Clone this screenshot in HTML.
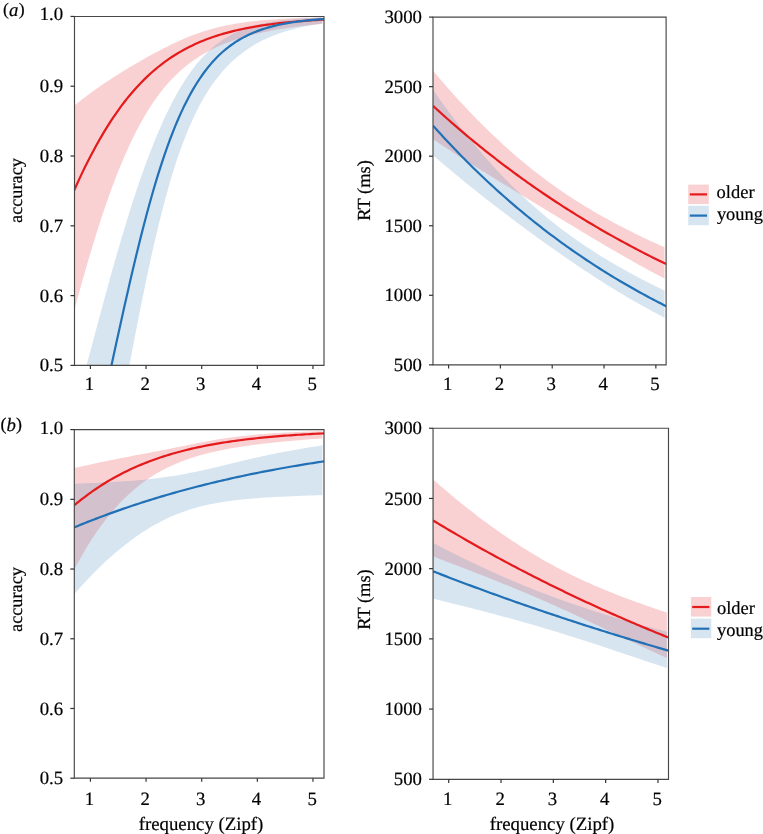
<!DOCTYPE html>
<html><head><meta charset="utf-8"><style>
html,body{margin:0;padding:0;background:#fff;}
svg{display:block;will-change:transform;}
text{font-family:"Liberation Serif",serif;font-size:18.8px;fill:#000;text-rendering:geometricPrecision;stroke:#000;stroke-width:0.2px;}
.ax{fill:none;stroke:#474747;stroke-width:1.15;}
.tk{fill:none;stroke:#333;stroke-width:1.2;}
.bandr{fill:#e41a1c;fill-opacity:0.2;stroke:none;}
.bandb{fill:#377eb8;fill-opacity:0.2;stroke:none;}
.liner{fill:none;stroke:#e41a1c;stroke-width:2.2;stroke-linejoin:round;}
.lineb{fill:none;stroke:#2270b5;stroke-width:2.2;stroke-linejoin:round;}
</style></head><body>
<svg width="763" height="834" viewBox="0 0 763 834">
<defs></defs>
<clipPath id="cTL"><rect x="74.5" y="16.5" width="249.50" height="348.90"/></clipPath>
<clipPath id="cTLb"><rect x="74.5" y="16.5" width="247.90" height="348.90"/></clipPath>
<g clip-path="url(#cTLb)">
<polygon class="bandr" points="73.74,106.03 76.55,103.77 79.37,101.55 82.18,99.36 84.99,97.21 87.80,95.10 90.62,93.02 93.43,90.97 96.24,88.96 99.06,86.98 101.87,85.04 104.68,83.12 107.50,81.23 110.31,79.38 113.12,77.55 115.93,75.74 118.75,73.96 121.56,72.21 124.37,70.48 127.19,68.77 130.00,67.08 132.81,65.42 135.62,63.77 138.44,62.14 141.25,60.53 144.06,58.93 146.88,57.36 149.69,55.80 152.50,54.26 155.31,52.74 158.13,51.24 160.94,49.77 163.75,48.31 166.57,46.88 169.38,45.48 172.19,44.11 175.01,42.77 177.82,41.46 180.63,40.19 183.44,38.96 186.26,37.77 189.07,36.62 191.88,35.52 194.70,34.45 197.51,33.44 200.32,32.46 203.13,31.54 205.95,30.65 208.76,29.81 211.57,29.01 214.39,28.25 217.20,27.53 220.01,26.86 222.82,26.21 225.64,25.61 228.45,25.04 231.26,24.50 234.08,23.99 236.89,23.51 239.70,23.06 242.52,22.64 245.33,22.24 248.14,21.87 250.95,21.52 253.77,21.19 256.58,20.88 259.39,20.60 262.21,20.33 265.02,20.07 267.83,19.84 270.64,19.61 273.46,19.41 276.27,19.21 279.08,19.03 281.90,18.86 284.71,18.70 287.52,18.55 290.33,18.41 293.15,18.28 295.96,18.16 298.77,18.05 301.59,17.94 304.40,17.84 307.21,17.75 310.03,17.66 312.84,17.58 315.65,17.51 318.46,17.44 321.28,17.37 324.09,17.31 324.09,23.71 321.28,23.97 318.46,24.24 315.65,24.52 312.84,24.81 310.03,25.11 307.21,25.43 304.40,25.75 301.59,26.09 298.77,26.44 295.96,26.81 293.15,27.19 290.33,27.58 287.52,28.00 284.71,28.42 281.90,28.87 279.08,29.33 276.27,29.82 273.46,30.32 270.64,30.84 267.83,31.39 265.02,31.96 262.21,32.56 259.39,33.18 256.58,33.83 253.77,34.51 250.95,35.21 248.14,35.95 245.33,36.73 242.52,37.54 239.70,38.39 236.89,39.28 234.08,40.21 231.26,41.19 228.45,42.21 225.64,43.29 222.82,44.42 220.01,45.61 217.20,46.86 214.39,48.17 211.57,49.55 208.76,51.01 205.95,52.54 203.13,54.15 200.32,55.85 197.51,57.64 194.70,59.53 191.88,61.51 189.07,63.61 186.26,65.82 183.44,68.15 180.63,70.60 177.82,73.19 175.01,75.92 172.19,78.79 169.38,81.82 166.57,85.00 163.75,88.35 160.94,91.87 158.13,95.58 155.31,99.47 152.50,103.56 149.69,107.84 146.88,112.34 144.06,117.05 141.25,121.98 138.44,127.14 135.62,132.53 132.81,138.16 130.00,144.03 127.19,150.15 124.37,156.51 121.56,163.13 118.75,170.01 115.93,177.14 113.12,184.52 110.31,192.16 107.50,200.05 104.68,208.19 101.87,216.58 99.06,225.21 96.24,234.07 93.43,243.15 90.62,252.45 87.80,261.95 84.99,271.64 82.18,281.51 79.37,291.55 76.55,301.73 73.74,312.05"/>
<polygon class="bandb" points="73.74,412.97 76.55,402.65 79.37,392.25 82.18,381.78 84.99,371.26 87.80,360.71 90.62,350.15 93.43,339.60 96.24,329.06 99.06,318.57 101.87,308.13 104.68,297.78 107.50,287.51 110.31,277.35 113.12,267.31 115.93,257.41 118.75,247.67 121.56,238.09 124.37,228.68 127.19,219.46 130.00,210.43 132.81,201.62 135.62,193.01 138.44,184.62 141.25,176.46 144.06,168.53 146.88,160.84 149.69,153.38 152.50,146.16 155.31,139.18 158.13,132.45 160.94,125.96 163.75,119.71 166.57,113.71 169.38,107.95 172.19,102.42 175.01,97.14 177.82,92.09 180.63,87.27 183.44,82.69 186.26,78.33 189.07,74.19 191.88,70.27 194.70,66.56 197.51,63.06 200.32,59.76 203.13,56.66 205.95,53.74 208.76,51.00 211.57,48.44 214.39,46.05 217.20,43.81 220.01,41.72 222.82,39.78 225.64,37.97 228.45,36.29 231.26,34.74 234.08,33.29 236.89,31.95 239.70,30.72 242.52,29.57 245.33,28.51 248.14,27.54 250.95,26.64 253.77,25.80 256.58,25.04 259.39,24.33 262.21,23.68 265.02,23.09 267.83,22.54 270.64,22.03 273.46,21.57 276.27,21.14 279.08,20.75 281.90,20.39 284.71,20.06 287.52,19.76 290.33,19.48 293.15,19.23 295.96,18.99 298.77,18.78 301.59,18.58 304.40,18.40 307.21,18.24 310.03,18.08 312.84,17.95 315.65,17.82 318.46,17.70 321.28,17.60 324.09,17.50 324.09,23.21 321.28,23.61 318.46,24.03 315.65,24.48 312.84,24.96 310.03,25.47 307.21,26.00 304.40,26.57 301.59,27.17 298.77,27.81 295.96,28.49 293.15,29.21 290.33,29.97 287.52,30.77 284.71,31.62 281.90,32.53 279.08,33.49 276.27,34.50 273.46,35.58 270.64,36.72 267.83,37.93 265.02,39.22 262.21,40.58 259.39,42.02 256.58,43.55 253.77,45.18 250.95,46.90 248.14,48.72 245.33,50.66 242.52,52.72 239.70,54.90 236.89,57.21 234.08,59.66 231.26,62.27 228.45,65.03 225.64,67.97 222.82,71.09 220.01,74.40 217.20,77.91 214.39,81.65 211.57,85.61 208.76,89.82 205.95,94.30 203.13,99.05 200.32,104.11 197.51,109.47 194.70,115.16 191.88,121.21 189.07,127.62 186.26,134.42 183.44,141.63 180.63,149.26 177.82,157.32 175.01,165.84 172.19,174.82 169.38,184.28 166.57,194.22 163.75,204.64 160.94,215.54 158.13,226.92 155.31,238.77 152.50,251.06 149.69,263.78 146.88,276.90 144.06,290.39 141.25,304.21 138.44,318.31 135.62,332.66 132.81,347.20 130.00,361.88 127.19,376.64 124.37,391.42 121.56,406.17 118.75,420.83 115.93,435.34 113.12,449.65 110.31,463.71 107.50,477.46 104.68,490.88 101.87,503.91 99.06,516.53 96.24,528.70 93.43,540.41 90.62,551.64 87.80,562.37 84.99,572.60 82.18,582.31 79.37,591.53 76.55,600.24 73.74,608.45"/>
</g>
<g clip-path="url(#cTL)">
<polyline class="liner" points="73.74,191.24 76.55,184.97 79.37,178.85 82.18,172.89 84.99,167.09 87.80,161.45 90.62,155.96 93.43,150.64 96.24,145.46 99.06,140.45 101.87,135.59 104.68,130.88 107.50,126.32 110.31,121.91 113.12,117.64 115.93,113.52 118.75,109.55 121.56,105.71 124.37,102.00 127.19,98.43 130.00,94.99 132.81,91.68 135.62,88.49 138.44,85.42 141.25,82.47 144.06,79.63 146.88,76.90 149.69,74.28 152.50,71.76 155.31,69.34 158.13,67.02 160.94,64.80 163.75,62.66 166.57,60.62 169.38,58.65 172.19,56.77 175.01,54.97 177.82,53.25 180.63,51.59 183.44,50.01 186.26,48.50 189.07,47.05 191.88,45.66 194.70,44.34 197.51,43.07 200.32,41.85 203.13,40.70 205.95,39.59 208.76,38.53 211.57,37.52 214.39,36.55 217.20,35.62 220.01,34.74 222.82,33.90 225.64,33.09 228.45,32.32 231.26,31.59 234.08,30.89 236.89,30.22 239.70,29.58 242.52,28.97 245.33,28.39 248.14,27.83 250.95,27.30 253.77,26.80 256.58,26.31 259.39,25.85 262.21,25.42 265.02,25.00 267.83,24.60 270.64,24.22 273.46,23.85 276.27,23.51 279.08,23.18 281.90,22.86 284.71,22.56 287.52,22.27 290.33,22.00 293.15,21.74 295.96,21.49 298.77,21.26 301.59,21.03 304.40,20.81 307.21,20.61 310.03,20.41 312.84,20.23 315.65,20.05 318.46,19.88 321.28,19.72 324.09,19.56"/>
<polyline class="lineb" points="73.74,525.70 76.55,515.33 79.37,504.63 82.18,493.60 84.99,482.28 87.80,470.66 90.62,458.79 93.43,446.68 96.24,434.36 99.06,421.85 101.87,409.20 104.68,396.42 107.50,383.57 110.31,370.66 113.12,357.74 115.93,344.84 118.75,331.99 121.56,319.24 124.37,306.61 127.19,294.14 130.00,281.85 132.81,269.78 135.62,257.95 138.44,246.39 141.25,235.12 144.06,224.16 146.88,213.51 149.69,203.21 152.50,193.26 155.31,183.66 158.13,174.42 160.94,165.55 163.75,157.05 166.57,148.92 169.38,141.15 172.19,133.75 175.01,126.70 177.82,119.99 180.63,113.63 183.44,107.60 186.26,101.89 189.07,96.49 191.88,91.39 194.70,86.57 197.51,82.04 200.32,77.77 203.13,73.75 205.95,69.97 208.76,66.42 211.57,63.10 214.39,59.97 217.20,57.05 220.01,54.31 222.82,51.74 225.64,49.34 228.45,47.09 231.26,45.00 234.08,43.04 236.89,41.20 239.70,39.50 242.52,37.90 245.33,36.41 248.14,35.03 250.95,33.73 253.77,32.53 256.58,31.40 259.39,30.36 262.21,29.38 265.02,28.48 267.83,27.63 270.64,26.84 273.46,26.11 276.27,25.43 279.08,24.80 281.90,24.21 284.71,23.66 287.52,23.15 290.33,22.68 293.15,22.24 295.96,21.83 298.77,21.45 301.59,21.09 304.40,20.76 307.21,20.46 310.03,20.17 312.84,19.91 315.65,19.66 318.46,19.43 321.28,19.22 324.09,19.02"/>
</g>
<clipPath id="cTR"><rect x="433.0" y="17.1" width="233.10" height="347.80"/></clipPath>
<clipPath id="cTRb"><rect x="433.0" y="17.1" width="231.50" height="347.80"/></clipPath>
<g clip-path="url(#cTRb)">
<polygon class="bandr" points="433.02,70.63 435.64,73.76 438.26,76.87 440.88,79.95 443.50,83.00 446.12,86.02 448.74,89.00 451.36,91.96 453.98,94.89 456.60,97.79 459.22,100.66 461.84,103.51 464.46,106.32 467.08,109.11 469.70,111.86 472.32,114.59 474.94,117.29 477.56,119.96 480.18,122.60 482.80,125.22 485.42,127.80 488.04,130.36 490.66,132.89 493.29,135.40 495.91,137.87 498.53,140.32 501.15,142.74 503.77,145.13 506.39,147.49 509.01,149.83 511.63,152.14 514.25,154.42 516.87,156.68 519.49,158.91 522.11,161.11 524.73,163.28 527.35,165.43 529.97,167.55 532.59,169.64 535.21,171.71 537.83,173.75 540.45,175.76 543.07,177.75 545.69,179.71 548.31,181.64 550.93,183.56 553.55,185.44 556.17,187.30 558.79,189.14 561.41,190.95 564.03,192.73 566.65,194.50 569.27,196.24 571.89,197.95 574.51,199.65 577.13,201.32 579.75,202.97 582.37,204.60 584.99,206.20 587.61,207.79 590.23,209.36 592.85,210.91 595.47,212.44 598.09,213.95 600.71,215.44 603.33,216.91 605.95,218.37 608.58,219.81 611.20,221.23 613.82,222.64 616.44,224.03 619.06,225.41 621.68,226.77 624.30,228.12 626.92,229.46 629.54,230.78 632.16,232.08 634.78,233.38 637.40,234.66 640.02,235.93 642.64,237.19 645.26,238.43 647.88,239.67 650.50,240.89 653.12,242.10 655.74,243.31 658.36,244.50 660.98,245.68 663.60,246.85 666.22,248.01 666.22,279.46 663.60,278.10 660.98,276.73 658.36,275.35 655.74,273.96 653.12,272.56 650.50,271.15 647.88,269.73 645.26,268.31 642.64,266.87 640.02,265.43 637.40,263.97 634.78,262.51 632.16,261.05 629.54,259.57 626.92,258.09 624.30,256.59 621.68,255.10 619.06,253.59 616.44,252.08 613.82,250.56 611.20,249.03 608.58,247.50 605.95,245.96 603.33,244.42 600.71,242.87 598.09,241.32 595.47,239.76 592.85,238.20 590.23,236.63 587.61,235.07 584.99,233.49 582.37,231.92 579.75,230.34 577.13,228.76 574.51,227.18 571.89,225.59 569.27,224.01 566.65,222.42 564.03,220.83 561.41,219.25 558.79,217.66 556.17,216.07 553.55,214.48 550.93,212.89 548.31,211.29 545.69,209.70 543.07,208.11 540.45,206.52 537.83,204.93 535.21,203.34 532.59,201.74 529.97,200.15 527.35,198.56 524.73,196.96 522.11,195.37 519.49,193.77 516.87,192.17 514.25,190.57 511.63,188.97 509.01,187.37 506.39,185.77 503.77,184.16 501.15,182.55 498.53,180.94 495.91,179.32 493.29,177.71 490.66,176.09 488.04,174.46 485.42,172.83 482.80,171.20 480.18,169.57 477.56,167.93 474.94,166.28 472.32,164.63 469.70,162.98 467.08,161.32 464.46,159.66 461.84,157.99 459.22,156.31 456.60,154.63 453.98,152.95 451.36,151.25 448.74,149.56 446.12,147.85 443.50,146.14 440.88,144.43 438.26,142.70 435.64,140.97 433.02,139.23"/>
<polygon class="bandb" points="433.02,89.84 435.64,93.61 438.26,97.35 440.88,101.03 443.50,104.68 446.12,108.28 448.74,111.85 451.36,115.37 453.98,118.85 456.60,122.28 459.22,125.68 461.84,129.04 464.46,132.36 467.08,135.63 469.70,138.87 472.32,142.07 474.94,145.23 477.56,148.35 480.18,151.43 482.80,154.47 485.42,157.48 488.04,160.44 490.66,163.37 493.29,166.26 495.91,169.11 498.53,171.93 501.15,174.71 503.77,177.45 506.39,180.15 509.01,182.82 511.63,185.45 514.25,188.05 516.87,190.61 519.49,193.13 522.11,195.62 524.73,198.08 527.35,200.50 529.97,202.88 532.59,205.23 535.21,207.55 537.83,209.83 540.45,212.08 543.07,214.30 545.69,216.48 548.31,218.64 550.93,220.76 553.55,222.85 556.17,224.91 558.79,226.94 561.41,228.95 564.03,230.92 566.65,232.87 569.27,234.79 571.89,236.68 574.51,238.54 577.13,240.38 579.75,242.20 582.37,243.99 584.99,245.76 587.61,247.50 590.23,249.22 592.85,250.92 595.47,252.60 598.09,254.26 600.71,255.89 603.33,257.51 605.95,259.11 608.58,260.68 611.20,262.24 613.82,263.79 616.44,265.31 619.06,266.82 621.68,268.31 624.30,269.78 626.92,271.24 629.54,272.68 632.16,274.11 634.78,275.53 637.40,276.92 640.02,278.31 642.64,279.68 645.26,281.03 647.88,282.38 650.50,283.71 653.12,285.02 655.74,286.33 658.36,287.62 660.98,288.90 663.60,290.17 666.22,291.43 666.22,318.55 663.60,317.20 660.98,315.83 658.36,314.46 655.74,313.07 653.12,311.66 650.50,310.25 647.88,308.82 645.26,307.37 642.64,305.92 640.02,304.45 637.40,302.97 634.78,301.47 632.16,299.96 629.54,298.44 626.92,296.90 624.30,295.35 621.68,293.79 619.06,292.22 616.44,290.63 613.82,289.03 611.20,287.42 608.58,285.79 605.95,284.15 603.33,282.50 600.71,280.84 598.09,279.17 595.47,277.48 592.85,275.79 590.23,274.08 587.61,272.36 584.99,270.63 582.37,268.89 579.75,267.14 577.13,265.38 574.51,263.61 571.89,261.83 569.27,260.04 566.65,258.24 564.03,256.43 561.41,254.61 558.79,252.78 556.17,250.95 553.55,249.11 550.93,247.25 548.31,245.39 545.69,243.53 543.07,241.65 540.45,239.77 537.83,237.88 535.21,235.98 532.59,234.07 529.97,232.16 527.35,230.24 524.73,228.31 522.11,226.37 519.49,224.43 516.87,222.48 514.25,220.52 511.63,218.55 509.01,216.58 506.39,214.59 503.77,212.60 501.15,210.60 498.53,208.60 495.91,206.58 493.29,204.55 490.66,202.52 488.04,200.47 485.42,198.42 482.80,196.36 480.18,194.29 477.56,192.21 474.94,190.11 472.32,188.01 469.70,185.90 467.08,183.78 464.46,181.65 461.84,179.50 459.22,177.35 456.60,175.18 453.98,173.00 451.36,170.81 448.74,168.61 446.12,166.40 443.50,164.18 440.88,161.94 438.26,159.69 435.64,157.43 433.02,155.16"/>
</g>
<g clip-path="url(#cTR)">
<polyline class="liner" points="433.02,105.89 435.64,108.29 438.26,110.68 440.88,113.04 443.50,115.39 446.12,117.73 448.74,120.04 451.36,122.34 453.98,124.62 456.60,126.89 459.22,129.14 461.84,131.38 464.46,133.59 467.08,135.80 469.70,137.98 472.32,140.15 474.94,142.31 477.56,144.45 480.18,146.57 482.80,148.68 485.42,150.78 488.04,152.86 490.66,154.92 493.29,156.97 495.91,159.00 498.53,161.02 501.15,163.03 503.77,165.02 506.39,167.00 509.01,168.96 511.63,170.91 514.25,172.84 516.87,174.76 519.49,176.67 522.11,178.56 524.73,180.44 527.35,182.31 529.97,184.16 532.59,186.00 535.21,187.82 537.83,189.64 540.45,191.44 543.07,193.22 545.69,195.00 548.31,196.76 550.93,198.51 553.55,200.24 556.17,201.97 558.79,203.68 561.41,205.37 564.03,207.06 566.65,208.73 569.27,210.40 571.89,212.05 574.51,213.68 577.13,215.31 579.75,216.93 582.37,218.53 584.99,220.12 587.61,221.70 590.23,223.27 592.85,224.82 595.47,226.37 598.09,227.91 600.71,229.43 603.33,230.94 605.95,232.44 608.58,233.93 611.20,235.41 613.82,236.88 616.44,238.34 619.06,239.79 621.68,241.23 624.30,242.65 626.92,244.07 629.54,245.48 632.16,246.87 634.78,248.26 637.40,249.64 640.02,251.00 642.64,252.36 645.26,253.71 647.88,255.04 650.50,256.37 653.12,257.69 655.74,258.99 658.36,260.29 660.98,261.58 663.60,262.86 666.22,264.13"/>
<polyline class="lineb" points="433.02,125.68 435.64,128.60 438.26,131.49 440.88,134.36 443.50,137.20 446.12,140.02 448.74,142.82 451.36,145.59 453.98,148.34 456.60,151.06 459.22,153.76 461.84,156.44 464.46,159.09 467.08,161.72 469.70,164.33 472.32,166.91 474.94,169.48 477.56,172.02 480.18,174.54 482.80,177.03 485.42,179.51 488.04,181.96 490.66,184.39 493.29,186.80 495.91,189.19 498.53,191.56 501.15,193.91 503.77,196.23 506.39,198.54 509.01,200.83 511.63,203.09 514.25,205.34 516.87,207.56 519.49,209.77 522.11,211.96 524.73,214.13 527.35,216.27 529.97,218.40 532.59,220.51 535.21,222.61 537.83,224.68 540.45,226.73 543.07,228.77 545.69,230.79 548.31,232.79 550.93,234.77 553.55,236.73 556.17,238.68 558.79,240.61 561.41,242.52 564.03,244.42 566.65,246.29 569.27,248.15 571.89,250.00 574.51,251.82 577.13,253.63 579.75,255.43 582.37,257.21 584.99,258.97 587.61,260.71 590.23,262.44 592.85,264.16 595.47,265.86 598.09,267.54 600.71,269.21 603.33,270.86 605.95,272.50 608.58,274.12 611.20,275.73 613.82,277.32 616.44,278.90 619.06,280.46 621.68,282.01 624.30,283.54 626.92,285.06 629.54,286.57 632.16,288.06 634.78,289.54 637.40,291.01 640.02,292.46 642.64,293.90 645.26,295.32 647.88,296.73 650.50,298.13 653.12,299.52 655.74,300.89 658.36,302.25 660.98,303.60 663.60,304.93 666.22,306.25"/>
</g>
<clipPath id="cBL"><rect x="74.3" y="429.6" width="249.70" height="348.55"/></clipPath>
<clipPath id="cBLb"><rect x="74.3" y="429.6" width="248.10" height="348.55"/></clipPath>
<g clip-path="url(#cBLb)">
<polygon class="bandr" points="73.74,468.27 76.55,467.61 79.37,466.96 82.18,466.31 84.99,465.68 87.80,465.05 90.62,464.43 93.43,463.82 96.24,463.21 99.06,462.62 101.87,462.03 104.68,461.44 107.50,460.86 110.31,460.29 113.12,459.72 115.93,459.16 118.75,458.60 121.56,458.05 124.37,457.50 127.19,456.96 130.00,456.41 132.81,455.87 135.62,455.34 138.44,454.80 141.25,454.27 144.06,453.73 146.88,453.20 149.69,452.66 152.50,452.12 155.31,451.58 158.13,451.04 160.94,450.49 163.75,449.94 166.57,449.39 169.38,448.83 172.19,448.26 175.01,447.69 177.82,447.12 180.63,446.55 183.44,445.97 186.26,445.39 189.07,444.82 191.88,444.25 194.70,443.68 197.51,443.12 200.32,442.57 203.13,442.03 205.95,441.51 208.76,440.99 211.57,440.50 214.39,440.01 217.20,439.54 220.01,439.09 222.82,438.65 225.64,438.23 228.45,437.83 231.26,437.44 234.08,437.07 236.89,436.71 239.70,436.37 242.52,436.04 245.33,435.73 248.14,435.43 250.95,435.15 253.77,434.87 256.58,434.61 259.39,434.37 262.21,434.13 265.02,433.91 267.83,433.69 270.64,433.49 273.46,433.29 276.27,433.11 279.08,432.93 281.90,432.77 284.71,432.61 287.52,432.46 290.33,432.31 293.15,432.17 295.96,432.04 298.77,431.92 301.59,431.80 304.40,431.69 307.21,431.59 310.03,431.49 312.84,431.39 315.65,431.30 318.46,431.21 321.28,431.13 324.09,431.05 324.09,438.31 321.28,438.50 318.46,438.69 315.65,438.89 312.84,439.10 310.03,439.30 307.21,439.52 304.40,439.74 301.59,439.96 298.77,440.19 295.96,440.43 293.15,440.67 290.33,440.92 287.52,441.18 284.71,441.44 281.90,441.71 279.08,441.99 276.27,442.28 273.46,442.57 270.64,442.88 267.83,443.19 265.02,443.51 262.21,443.84 259.39,444.19 256.58,444.54 253.77,444.91 250.95,445.28 248.14,445.68 245.33,446.08 242.52,446.50 239.70,446.93 236.89,447.38 234.08,447.85 231.26,448.33 228.45,448.84 225.64,449.36 222.82,449.91 220.01,450.48 217.20,451.07 214.39,451.69 211.57,452.34 208.76,453.01 205.95,453.72 203.13,454.46 200.32,455.23 197.51,456.04 194.70,456.89 191.88,457.78 189.07,458.72 186.26,459.70 183.44,460.73 180.63,461.81 177.82,462.94 175.01,464.13 172.19,465.38 169.38,466.69 166.57,468.07 163.75,469.51 160.94,471.03 158.13,472.61 155.31,474.28 152.50,476.02 149.69,477.84 146.88,479.76 144.06,481.76 141.25,483.85 138.44,486.04 135.62,488.32 132.81,490.71 130.00,493.21 127.19,495.81 124.37,498.53 121.56,501.36 118.75,504.31 115.93,507.38 113.12,510.58 110.31,513.91 107.50,517.37 104.68,520.97 101.87,524.70 99.06,528.58 96.24,532.61 93.43,536.78 90.62,541.10 87.80,545.57 84.99,550.21 82.18,554.99 79.37,559.94 76.55,565.05 73.74,570.32"/>
<polygon class="bandb" points="73.74,483.74 76.55,483.65 79.37,483.55 82.18,483.45 84.99,483.34 87.80,483.23 90.62,483.12 93.43,483.00 96.24,482.88 99.06,482.75 101.87,482.61 104.68,482.47 107.50,482.33 110.31,482.17 113.12,482.01 115.93,481.85 118.75,481.67 121.56,481.49 124.37,481.29 127.19,481.09 130.00,480.88 132.81,480.65 135.62,480.42 138.44,480.18 141.25,479.92 144.06,479.65 146.88,479.36 149.69,479.07 152.50,478.75 155.31,478.42 158.13,478.08 160.94,477.72 163.75,477.34 166.57,476.94 169.38,476.53 172.19,476.09 175.01,475.64 177.82,475.17 180.63,474.68 183.44,474.17 186.26,473.65 189.07,473.11 191.88,472.54 194.70,471.97 197.51,471.38 200.32,470.77 203.13,470.15 205.95,469.52 208.76,468.88 211.57,468.22 214.39,467.56 217.20,466.90 220.01,466.23 222.82,465.55 225.64,464.88 228.45,464.20 231.26,463.52 234.08,462.84 236.89,462.17 239.70,461.49 242.52,460.83 245.33,460.16 248.14,459.51 250.95,458.86 253.77,458.21 256.58,457.58 259.39,456.95 262.21,456.33 265.02,455.72 267.83,455.12 270.64,454.52 273.46,453.94 276.27,453.37 279.08,452.81 281.90,452.25 284.71,451.71 287.52,451.18 290.33,450.66 293.15,450.14 295.96,449.64 298.77,449.15 301.59,448.67 304.40,448.20 307.21,447.74 310.03,447.28 312.84,446.84 315.65,446.41 318.46,445.99 321.28,445.58 324.09,445.17 324.09,495.12 321.28,495.20 318.46,495.27 315.65,495.35 312.84,495.44 310.03,495.53 307.21,495.62 304.40,495.71 301.59,495.81 298.77,495.92 295.96,496.03 293.15,496.14 290.33,496.26 287.52,496.38 284.71,496.51 281.90,496.65 279.08,496.79 276.27,496.94 273.46,497.10 270.64,497.27 267.83,497.44 265.02,497.62 262.21,497.82 259.39,498.02 256.58,498.24 253.77,498.46 250.95,498.70 248.14,498.96 245.33,499.22 242.52,499.51 239.70,499.81 236.89,500.12 234.08,500.46 231.26,500.82 228.45,501.20 225.64,501.60 222.82,502.03 220.01,502.48 217.20,502.96 214.39,503.48 211.57,504.02 208.76,504.60 205.95,505.22 203.13,505.87 200.32,506.57 197.51,507.30 194.70,508.08 191.88,508.91 189.07,509.78 186.26,510.70 183.44,511.68 180.63,512.70 177.82,513.79 175.01,514.92 172.19,516.11 169.38,517.36 166.57,518.67 163.75,520.04 160.94,521.46 158.13,522.95 155.31,524.49 152.50,526.09 149.69,527.75 146.88,529.48 144.06,531.26 141.25,533.10 138.44,535.00 135.62,536.96 132.81,538.98 130.00,541.05 127.19,543.19 124.37,545.38 121.56,547.64 118.75,549.95 115.93,552.32 113.12,554.74 110.31,557.23 107.50,559.77 104.68,562.37 101.87,565.02 99.06,567.74 96.24,570.51 93.43,573.33 90.62,576.22 87.80,579.15 84.99,582.15 82.18,585.20 79.37,588.31 76.55,591.47 73.74,594.68"/>
</g>
<g clip-path="url(#cBL)">
<polyline class="liner" points="73.74,505.77 76.55,503.42 79.37,501.14 82.18,498.92 84.99,496.76 87.80,494.67 90.62,492.63 93.43,490.65 96.24,488.72 99.06,486.85 101.87,485.04 104.68,483.27 107.50,481.56 110.31,479.90 113.12,478.29 115.93,476.73 118.75,475.21 121.56,473.74 124.37,472.31 127.19,470.93 130.00,469.58 132.81,468.28 135.62,467.02 138.44,465.80 141.25,464.62 144.06,463.47 146.88,462.36 149.69,461.28 152.50,460.24 155.31,459.23 158.13,458.25 160.94,457.30 163.75,456.38 166.57,455.49 169.38,454.63 172.19,453.80 175.01,453.00 177.82,452.22 180.63,451.46 183.44,450.73 186.26,450.02 189.07,449.34 191.88,448.68 194.70,448.04 197.51,447.42 200.32,446.82 203.13,446.24 205.95,445.68 208.76,445.14 211.57,444.62 214.39,444.11 217.20,443.62 220.01,443.15 222.82,442.69 225.64,442.25 228.45,441.82 231.26,441.40 234.08,441.00 236.89,440.62 239.70,440.24 242.52,439.88 245.33,439.53 248.14,439.20 250.95,438.87 253.77,438.55 256.58,438.25 259.39,437.96 262.21,437.67 265.02,437.40 267.83,437.13 270.64,436.87 273.46,436.63 276.27,436.39 279.08,436.15 281.90,435.93 284.71,435.71 287.52,435.51 290.33,435.30 293.15,435.11 295.96,434.92 298.77,434.74 301.59,434.56 304.40,434.39 307.21,434.23 310.03,434.07 312.84,433.92 315.65,433.77 318.46,433.63 321.28,433.49 324.09,433.36"/>
<polyline class="lineb" points="73.74,527.56 76.55,526.40 79.37,525.25 82.18,524.11 84.99,522.99 87.80,521.87 90.62,520.77 93.43,519.68 96.24,518.60 99.06,517.53 101.87,516.47 104.68,515.43 107.50,514.39 110.31,513.36 113.12,512.35 115.93,511.35 118.75,510.35 121.56,509.37 124.37,508.40 127.19,507.43 130.00,506.48 132.81,505.54 135.62,504.61 138.44,503.69 141.25,502.78 144.06,501.87 146.88,500.98 149.69,500.10 152.50,499.23 155.31,498.37 158.13,497.51 160.94,496.67 163.75,495.83 166.57,495.01 169.38,494.19 172.19,493.39 175.01,492.59 177.82,491.80 180.63,491.02 183.44,490.25 186.26,489.49 189.07,488.73 191.88,487.99 194.70,487.25 197.51,486.53 200.32,485.81 203.13,485.09 205.95,484.39 208.76,483.70 211.57,483.01 214.39,482.33 217.20,481.66 220.01,481.00 222.82,480.34 225.64,479.70 228.45,479.06 231.26,478.42 234.08,477.80 236.89,477.18 239.70,476.57 242.52,475.97 245.33,475.37 248.14,474.79 250.95,474.20 253.77,473.63 256.58,473.06 259.39,472.50 262.21,471.95 265.02,471.40 267.83,470.86 270.64,470.33 273.46,469.80 276.27,469.28 279.08,468.76 281.90,468.25 284.71,467.75 287.52,467.26 290.33,466.77 293.15,466.28 295.96,465.80 298.77,465.33 301.59,464.86 304.40,464.40 307.21,463.95 310.03,463.50 312.84,463.06 315.65,462.62 318.46,462.19 321.28,461.76 324.09,461.34"/>
</g>
<clipPath id="cBR"><rect x="433.05" y="428.24" width="235.45" height="351.06"/></clipPath>
<clipPath id="cBRb"><rect x="433.05" y="428.24" width="233.85" height="351.06"/></clipPath>
<g clip-path="url(#cBRb)">
<polygon class="bandr" points="433.02,479.38 435.66,481.71 438.31,484.02 440.95,486.31 443.60,488.59 446.24,490.84 448.89,493.08 451.53,495.29 454.18,497.49 456.82,499.67 459.47,501.83 462.11,503.97 464.76,506.09 467.40,508.19 470.05,510.27 472.69,512.33 475.34,514.37 477.98,516.40 480.63,518.40 483.27,520.38 485.92,522.35 488.56,524.29 491.21,526.22 493.85,528.12 496.50,530.00 499.14,531.87 501.79,533.71 504.43,535.53 507.08,537.34 509.72,539.12 512.37,540.88 515.01,542.62 517.66,544.34 520.30,546.04 522.95,547.72 525.59,549.37 528.24,551.01 530.88,552.62 533.53,554.22 536.17,555.79 538.82,557.34 541.46,558.88 544.11,560.39 546.75,561.88 549.40,563.35 552.04,564.80 554.69,566.23 557.33,567.64 559.98,569.02 562.62,570.40 565.27,571.75 567.91,573.08 570.56,574.39 573.20,575.68 575.85,576.96 578.49,578.22 581.14,579.46 583.78,580.68 586.43,581.89 589.07,583.08 591.72,584.26 594.36,585.42 597.01,586.56 599.65,587.69 602.30,588.80 604.94,589.90 607.59,590.99 610.23,592.06 612.88,593.12 615.52,594.17 618.17,595.21 620.81,596.23 623.46,597.25 626.10,598.25 628.75,599.24 631.39,600.22 634.04,601.19 636.68,602.15 639.33,603.10 641.97,604.04 644.62,604.98 647.26,605.90 649.91,606.82 652.55,607.73 655.20,608.63 657.84,609.52 660.49,610.41 663.13,611.28 665.78,612.16 668.42,613.02 668.42,658.80 665.78,657.58 663.13,656.37 660.49,655.15 657.84,653.92 655.20,652.70 652.55,651.47 649.91,650.23 647.26,648.99 644.62,647.75 641.97,646.51 639.33,645.26 636.68,644.01 634.04,642.76 631.39,641.51 628.75,640.25 626.10,638.99 623.46,637.74 620.81,636.48 618.17,635.22 615.52,633.96 612.88,632.70 610.23,631.44 607.59,630.18 604.94,628.92 602.30,627.66 599.65,626.40 597.01,625.15 594.36,623.90 591.72,622.65 589.07,621.40 586.43,620.16 583.78,618.92 581.14,617.68 578.49,616.45 575.85,615.22 573.20,614.00 570.56,612.78 567.91,611.56 565.27,610.36 562.62,609.15 559.98,607.96 557.33,606.76 554.69,605.58 552.04,604.40 549.40,603.23 546.75,602.06 544.11,600.90 541.46,599.74 538.82,598.60 536.17,597.45 533.53,596.32 530.88,595.19 528.24,594.07 525.59,592.95 522.95,591.84 520.30,590.73 517.66,589.63 515.01,588.54 512.37,587.45 509.72,586.36 507.08,585.28 504.43,584.21 501.79,583.14 499.14,582.07 496.50,581.01 493.85,579.96 491.21,578.90 488.56,577.85 485.92,576.81 483.27,575.76 480.63,574.72 477.98,573.69 475.34,572.65 472.69,571.62 470.05,570.59 467.40,569.57 464.76,568.54 462.11,567.52 459.47,566.50 456.82,565.48 454.18,564.46 451.53,563.45 448.89,562.43 446.24,561.42 443.60,560.41 440.95,559.40 438.31,558.38 435.66,557.37 433.02,556.36"/>
<polygon class="bandb" points="433.02,542.78 435.66,544.18 438.31,545.56 440.95,546.94 443.60,548.31 446.24,549.67 448.89,551.02 451.53,552.37 454.18,553.70 456.82,555.02 459.47,556.34 462.11,557.64 464.76,558.94 467.40,560.23 470.05,561.51 472.69,562.78 475.34,564.04 477.98,565.29 480.63,566.53 483.27,567.76 485.92,568.99 488.56,570.20 491.21,571.41 493.85,572.60 496.50,573.79 499.14,574.96 501.79,576.13 504.43,577.29 507.08,578.44 509.72,579.58 512.37,580.71 515.01,581.83 517.66,582.94 520.30,584.04 522.95,585.13 525.59,586.21 528.24,587.28 530.88,588.35 533.53,589.40 536.17,590.44 538.82,591.48 541.46,592.51 544.11,593.52 546.75,594.53 549.40,595.53 552.04,596.51 554.69,597.49 557.33,598.46 559.98,599.43 562.62,600.38 565.27,601.32 567.91,602.25 570.56,603.18 573.20,604.10 575.85,605.01 578.49,605.91 581.14,606.80 583.78,607.68 586.43,608.55 589.07,609.42 591.72,610.28 594.36,611.13 597.01,611.97 599.65,612.81 602.30,613.63 604.94,614.45 607.59,615.27 610.23,616.07 612.88,616.87 615.52,617.66 618.17,618.45 620.81,619.22 623.46,619.99 626.10,620.76 628.75,621.52 631.39,622.27 634.04,623.02 636.68,623.75 639.33,624.49 641.97,625.22 644.62,625.94 647.26,626.66 649.91,627.37 652.55,628.07 655.20,628.78 657.84,629.47 660.49,630.16 663.13,630.85 665.78,631.53 668.42,632.21 668.42,668.63 665.78,667.75 663.13,666.86 660.49,665.98 657.84,665.09 655.20,664.21 652.55,663.32 649.91,662.43 647.26,661.54 644.62,660.65 641.97,659.76 639.33,658.87 636.68,657.98 634.04,657.09 631.39,656.20 628.75,655.31 626.10,654.42 623.46,653.53 620.81,652.65 618.17,651.76 615.52,650.88 612.88,649.99 610.23,649.11 607.59,648.23 604.94,647.36 602.30,646.48 599.65,645.61 597.01,644.74 594.36,643.87 591.72,643.01 589.07,642.15 586.43,641.29 583.78,640.44 581.14,639.59 578.49,638.74 575.85,637.90 573.20,637.06 570.56,636.22 567.91,635.39 565.27,634.57 562.62,633.75 559.98,632.93 557.33,632.12 554.69,631.31 552.04,630.51 549.40,629.71 546.75,628.92 544.11,628.13 541.46,627.35 538.82,626.57 536.17,625.80 533.53,625.03 530.88,624.26 528.24,623.51 525.59,622.75 522.95,622.00 520.30,621.26 517.66,620.52 515.01,619.78 512.37,619.05 509.72,618.33 507.08,617.60 504.43,616.88 501.79,616.17 499.14,615.46 496.50,614.75 493.85,614.05 491.21,613.35 488.56,612.65 485.92,611.96 483.27,611.27 480.63,610.59 477.98,609.90 475.34,609.22 472.69,608.55 470.05,607.87 467.40,607.20 464.76,606.53 462.11,605.86 459.47,605.20 456.82,604.54 454.18,603.88 451.53,603.22 448.89,602.56 446.24,601.91 443.60,601.26 440.95,600.61 438.31,599.96 435.66,599.31 433.02,598.67"/>
</g>
<g clip-path="url(#cBR)">
<polyline class="liner" points="433.02,520.44 435.66,522.04 438.31,523.64 440.95,525.23 443.60,526.81 446.24,528.38 448.89,529.95 451.53,531.51 454.18,533.06 456.82,534.61 459.47,536.14 462.11,537.67 464.76,539.20 467.40,540.71 470.05,542.22 472.69,543.73 475.34,545.22 477.98,546.71 480.63,548.19 483.27,549.67 485.92,551.14 488.56,552.60 491.21,554.05 493.85,555.50 496.50,556.94 499.14,558.37 501.79,559.80 504.43,561.22 507.08,562.64 509.72,564.04 512.37,565.45 515.01,566.84 517.66,568.23 520.30,569.61 522.95,570.99 525.59,572.35 528.24,573.72 530.88,575.07 533.53,576.42 536.17,577.77 538.82,579.10 541.46,580.44 544.11,581.76 546.75,583.08 549.40,584.39 552.04,585.70 554.69,587.00 557.33,588.29 559.98,589.58 562.62,590.86 565.27,592.14 567.91,593.41 570.56,594.68 573.20,595.93 575.85,597.19 578.49,598.43 581.14,599.67 583.78,600.91 586.43,602.14 589.07,603.36 591.72,604.58 594.36,605.79 597.01,607.00 599.65,608.20 602.30,609.39 604.94,610.58 607.59,611.77 610.23,612.95 612.88,614.12 615.52,615.29 618.17,616.45 620.81,617.60 623.46,618.75 626.10,619.90 628.75,621.04 631.39,622.17 634.04,623.30 636.68,624.43 639.33,625.55 641.97,626.66 644.62,627.77 647.26,628.87 649.91,629.97 652.55,631.06 655.20,632.15 657.84,633.23 660.49,634.31 663.13,635.38 665.78,636.45 668.42,637.51"/>
<polyline class="lineb" points="433.02,571.28 435.66,572.31 438.31,573.34 440.95,574.36 443.60,575.38 446.24,576.40 448.89,577.41 451.53,578.42 454.18,579.43 456.82,580.43 459.47,581.43 462.11,582.43 464.76,583.42 467.40,584.41 470.05,585.40 472.69,586.38 475.34,587.36 477.98,588.34 480.63,589.31 483.27,590.28 485.92,591.25 488.56,592.21 491.21,593.17 493.85,594.13 496.50,595.08 499.14,596.04 501.79,596.98 504.43,597.93 507.08,598.87 509.72,599.81 512.37,600.74 515.01,601.67 517.66,602.60 520.30,603.53 522.95,604.45 525.59,605.37 528.24,606.29 530.88,607.20 533.53,608.11 536.17,609.02 538.82,609.92 541.46,610.82 544.11,611.72 546.75,612.62 549.40,613.51 552.04,614.40 554.69,615.28 557.33,616.16 559.98,617.04 562.62,617.92 565.27,618.80 567.91,619.67 570.56,620.53 573.20,621.40 575.85,622.26 578.49,623.12 581.14,623.98 583.78,624.83 586.43,625.68 589.07,626.53 591.72,627.37 594.36,628.21 597.01,629.05 599.65,629.89 602.30,630.72 604.94,631.55 607.59,632.38 610.23,633.20 612.88,634.03 615.52,634.84 618.17,635.66 620.81,636.47 623.46,637.28 626.10,638.09 628.75,638.90 631.39,639.70 634.04,640.50 636.68,641.30 639.33,642.09 641.97,642.88 644.62,643.67 647.26,644.46 649.91,645.24 652.55,646.02 655.20,646.80 657.84,647.57 660.49,648.34 663.13,649.11 665.78,649.88 668.42,650.65"/>
</g>
<path class="ax" d="M74.5,16.5H324.0V365.4H74.5Z"/>
<path class="tk" d="M90.43,365.4v3.6"/>
<path class="tk" d="M146.06,365.4v3.6"/>
<path class="tk" d="M201.70,365.4v3.6"/>
<path class="tk" d="M257.33,365.4v3.6"/>
<path class="tk" d="M312.96,365.4v3.6"/>
<path class="tk" d="M70.5,365.40h4"/>
<path class="tk" d="M70.5,295.61h4"/>
<path class="tk" d="M70.5,225.82h4"/>
<path class="tk" d="M70.5,156.03h4"/>
<path class="tk" d="M70.5,86.24h4"/>
<path class="tk" d="M70.5,16.45h4"/>
<path class="ax" d="M433.0,17.1H666.1V364.9H433.0Z"/>
<path class="tk" d="M448.57,364.9v3.6"/>
<path class="tk" d="M500.39,364.9v3.6"/>
<path class="tk" d="M552.21,364.9v3.6"/>
<path class="tk" d="M604.03,364.9v3.6"/>
<path class="tk" d="M655.86,364.9v3.6"/>
<path class="tk" d="M429.0,364.85h4"/>
<path class="tk" d="M429.0,295.30h4"/>
<path class="tk" d="M429.0,225.75h4"/>
<path class="tk" d="M429.0,156.20h4"/>
<path class="tk" d="M429.0,86.65h4"/>
<path class="tk" d="M429.0,17.10h4"/>
<path class="ax" d="M74.3,429.6H324.0V778.15H74.3Z"/>
<path class="tk" d="M90.43,778.15v3.6"/>
<path class="tk" d="M146.06,778.15v3.6"/>
<path class="tk" d="M201.70,778.15v3.6"/>
<path class="tk" d="M257.33,778.15v3.6"/>
<path class="tk" d="M312.96,778.15v3.6"/>
<path class="tk" d="M70.3,778.20h4"/>
<path class="tk" d="M70.3,708.48h4"/>
<path class="tk" d="M70.3,638.76h4"/>
<path class="tk" d="M70.3,569.04h4"/>
<path class="tk" d="M70.3,499.32h4"/>
<path class="tk" d="M70.3,429.60h4"/>
<path class="ax" d="M433.05,428.24H668.5V779.3H433.05Z"/>
<path class="tk" d="M448.71,779.3v3.6"/>
<path class="tk" d="M501.02,779.3v3.6"/>
<path class="tk" d="M553.34,779.3v3.6"/>
<path class="tk" d="M605.65,779.3v3.6"/>
<path class="tk" d="M657.96,779.3v3.6"/>
<path class="tk" d="M429.05,779.30h4"/>
<path class="tk" d="M429.05,709.09h4"/>
<path class="tk" d="M429.05,638.88h4"/>
<path class="tk" d="M429.05,568.66h4"/>
<path class="tk" d="M429.05,498.45h4"/>
<path class="tk" d="M429.05,428.24h4"/>
<text x="63.2" y="371.4" text-anchor="end">0.5</text>
<text x="63.2" y="301.6" text-anchor="end">0.6</text>
<text x="63.2" y="231.8" text-anchor="end">0.7</text>
<text x="63.2" y="162.0" text-anchor="end">0.8</text>
<text x="63.2" y="92.2" text-anchor="end">0.9</text>
<text x="63.2" y="19.9" text-anchor="end">1.0</text>
<text x="89.5" y="389.7" text-anchor="middle">1</text>
<text x="145.2" y="389.7" text-anchor="middle">2</text>
<text x="200.8" y="389.7" text-anchor="middle">3</text>
<text x="256.4" y="389.7" text-anchor="middle">4</text>
<text x="312.1" y="389.7" text-anchor="middle">5</text>
<text x="422.0" y="370.9" text-anchor="end">500</text>
<text x="422.0" y="301.3" text-anchor="end">1000</text>
<text x="422.0" y="231.8" text-anchor="end">1500</text>
<text x="422.0" y="162.2" text-anchor="end">2000</text>
<text x="422.0" y="92.7" text-anchor="end">2500</text>
<text x="422.0" y="23.1" text-anchor="end">3000</text>
<text x="447.7" y="389.9" text-anchor="middle">1</text>
<text x="499.5" y="389.9" text-anchor="middle">2</text>
<text x="551.3" y="389.9" text-anchor="middle">3</text>
<text x="603.1" y="389.9" text-anchor="middle">4</text>
<text x="655.0" y="389.9" text-anchor="middle">5</text>
<text x="63.2" y="784.2" text-anchor="end">0.5</text>
<text x="63.2" y="714.5" text-anchor="end">0.6</text>
<text x="63.2" y="644.8" text-anchor="end">0.7</text>
<text x="63.2" y="575.0" text-anchor="end">0.8</text>
<text x="63.2" y="505.3" text-anchor="end">0.9</text>
<text x="63.2" y="434.1" text-anchor="end">1.0</text>
<text x="89.5" y="804.7" text-anchor="middle">1</text>
<text x="145.2" y="804.7" text-anchor="middle">2</text>
<text x="200.8" y="804.7" text-anchor="middle">3</text>
<text x="256.4" y="804.7" text-anchor="middle">4</text>
<text x="312.1" y="804.7" text-anchor="middle">5</text>
<text x="422.0" y="785.3" text-anchor="end">500</text>
<text x="422.0" y="715.1" text-anchor="end">1000</text>
<text x="422.0" y="644.9" text-anchor="end">1500</text>
<text x="422.0" y="574.7" text-anchor="end">2000</text>
<text x="422.0" y="504.5" text-anchor="end">2500</text>
<text x="422.0" y="434.2" text-anchor="end">3000</text>
<text x="447.8" y="804.9" text-anchor="middle">1</text>
<text x="500.1" y="804.9" text-anchor="middle">2</text>
<text x="552.4" y="804.9" text-anchor="middle">3</text>
<text x="604.7" y="804.9" text-anchor="middle">4</text>
<text x="657.1" y="804.9" text-anchor="middle">5</text>
<text x="3.1" y="15.3" style="font-size:17.7px">(</text><text x="8.9" y="16.2" style="font-style:italic">a</text><text x="18.7" y="15.3" style="font-size:17.7px">)</text>
<text x="0.5" y="430.2" style="font-size:17.9px">(</text><text x="6.6" y="430.5" style="font-style:italic">b</text><text x="15.9" y="430.2" style="font-size:17.9px">)</text>
<text transform="translate(22.3,190.5) rotate(-90)" text-anchor="middle" style="font-size:18.3px">accuracy</text>
<text transform="translate(22.3,599.5) rotate(-90)" text-anchor="middle" style="font-size:18.3px">accuracy</text>
<text transform="translate(369.5,190.4) rotate(-90)" text-anchor="middle" style="font-size:18.45px">RT (ms)</text>
<text transform="translate(369.5,599.5) rotate(-90)" text-anchor="middle" style="font-size:18.45px">RT (ms)</text>
<text x="201" y="829.8" text-anchor="middle">frequency (Zipf)</text>
<text x="552" y="829.8" text-anchor="middle">frequency (Zipf)</text>
<rect x="688.2" y="184.6" width="20.6" height="19.4" class="bandr"/>
<rect x="688.2" y="205.8" width="20.6" height="19.4" class="bandb"/>
<path d="M689.8,194.4H707" class="liner"/>
<path d="M689.8,215.6H707" class="lineb"/>
<text x="716.6" y="198.2" style="font-size:18.5px">older</text>
<text x="716.9" y="220.4" style="font-size:18.4px">young</text>
<rect x="690.9" y="597" width="20.4" height="19.6" class="bandr"/>
<rect x="690.9" y="618.6" width="20.4" height="19.6" class="bandb"/>
<path d="M692.2,607H709.4" class="liner"/>
<path d="M692.2,628.7H709.4" class="lineb"/>
<text x="716.9" y="613.9" style="font-size:18.5px">older</text>
<text x="717" y="635.9" style="font-size:18.4px">young</text>
</svg>
</body></html>
